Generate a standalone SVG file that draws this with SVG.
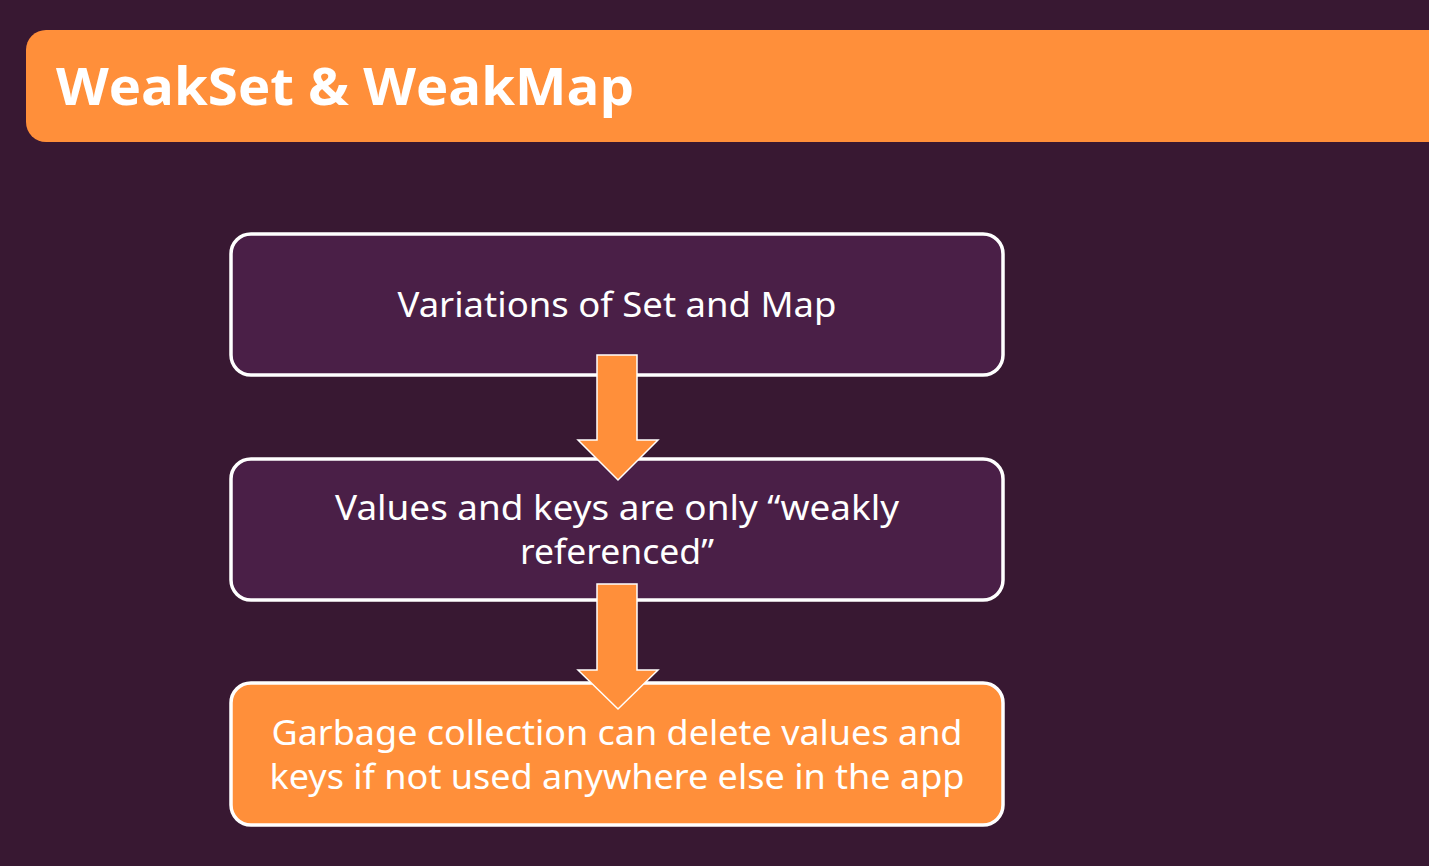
<svg xmlns="http://www.w3.org/2000/svg" width="1429" height="866" viewBox="0 0 1429 866">
<style>
.box{stroke:#ffffff;stroke-width:3.5}
.purple{fill:#4a1f47}
.orange{fill:#ff8f3a}
.t{font-family:"Noto Sans","Open Sans",sans-serif;font-size:34px;fill:#ffffff;text-anchor:middle}
.arrow{fill:#ff8f3a;stroke:#ffffff;stroke-width:1.5;stroke-linejoin:miter}
</style>
<rect x="0" y="0" width="1429" height="866" fill="#381832"/>
<g id="header">
<path d="M46 30 H1429 V142 H46 A20 20 0 0 1 26 122 V50 A20 20 0 0 1 46 30 Z" fill="#ff8f3a"/>
<text x="56" y="105" font-family="Open Sans, sans-serif" font-weight="700" font-size="52" fill="#ffffff" textLength="578" lengthAdjust="spacingAndGlyphs">WeakSet &amp; WeakMap</text>
</g>
<g id="node1">
<rect class="box purple" x="231" y="234" width="772" height="141" rx="20"/>
<text class="t" x="617" y="317" textLength="439" lengthAdjust="spacingAndGlyphs">Variations of Set and Map</text>
</g>
<g id="node2">
<rect class="box purple" x="231" y="459" width="772" height="141" rx="20"/>
<text class="t" x="617" y="520" textLength="564" lengthAdjust="spacingAndGlyphs">Values and keys are only “weakly</text>
<text class="t" x="617" y="564" textLength="194" lengthAdjust="spacingAndGlyphs">referenced”</text>
</g>
<g id="node3">
<rect class="box orange" x="231" y="683" width="772" height="142" rx="20"/>
<text class="t" x="617" y="745" textLength="691" lengthAdjust="spacingAndGlyphs">Garbage collection can delete values and</text>
<text class="t" x="617" y="789" textLength="695" lengthAdjust="spacingAndGlyphs">keys if not used anywhere else in the app</text>
</g>
<g id="connectors">
<path class="arrow" d="M597 355 H637 V440 H658 L618 480 L578 440 H597 Z"/>
<path class="arrow" d="M597 584 H637 V670 H658 L618 709 L578 670 H597 Z"/>
</g>
</svg>
